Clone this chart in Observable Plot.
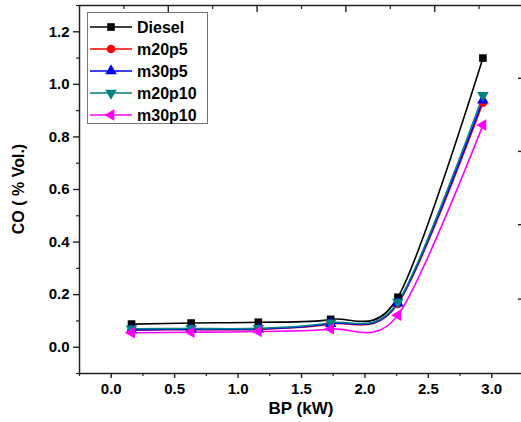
<!DOCTYPE html>
<html>
<head>
<meta charset="utf-8">
<script src="https://cdn.jsdelivr.net/npm/d3@7"></script>
<script src="https://cdn.jsdelivr.net/npm/@observablehq/plot@0.6"></script>
<style>
  html, body { margin: 0; padding: 0; background: #fff; }
  #chart svg { display: block; }
</style>
</head>
<body>
<div id="chart"></div>
<script>
// ---- data ----
const bp = [0.16, 0.63, 1.16, 1.73, 2.26, 2.93];
const seriesNames = ["Diesel", "m20p5", "m30p5", "m20p10", "m30p10"];
const diesel = [0.088, 0.092, 0.095, 0.106, 0.19, 1.10];
const m20p5  = [0.065, 0.067, 0.068, 0.088, 0.165, 0.93];
const m30p5  = [0.066, 0.068, 0.069, 0.090, 0.168, 0.94];
const m20p10 = [0.070, 0.071, 0.072, 0.093, 0.172, 0.958];
const m30p10 = [0.055, 0.057, 0.060, 0.069, 0.122, 0.845];
const xTicks = [0, 0.5, 1.0, 1.5, 2.0, 2.5, 3.0];
const xMinor = [-0.25, 0.25, 0.75, 1.25, 1.75, 2.25, 2.75, 3.25];
const yTicks = [0, 0.2, 0.4, 0.6, 0.8, 1.0, 1.2];
const yMinor = [-0.1, 0.1, 0.3, 0.5, 0.7, 0.9, 1.1, 1.3];
const topMajor = [0.45, 1.15, 1.85, 2.55];
const topMinor = [0.10, 0.80, 1.50, 2.20, 2.90];
const rightMajor = [0.183, 0.466, 0.745, 1.023];
const rightMinor = [0.042, 0.32, 0.603, 0.88, 1.16];

const colors = ["#000000", "#ff0000", "#0000ff", "#008080", "#ff00ff"];
const valuesBySeries = [diesel, m20p5, m30p5, m20p10, m30p10];

// custom symbols
const triDown = {draw(ctx, size) {
  const y = -Math.sqrt(size / (3 * Math.sqrt(3)));
  ctx.moveTo(0, -y * 2); ctx.lineTo(-Math.sqrt(3) * y, y); ctx.lineTo(Math.sqrt(3) * y, y); ctx.closePath();
}};
const triLeft = {draw(ctx, size) {
  const y = -Math.sqrt(size / (3 * Math.sqrt(3)));
  ctx.moveTo(y * 2, 0); ctx.lineTo(-y, -Math.sqrt(3) * y); ctx.lineTo(-y, Math.sqrt(3) * y); ctx.closePath();
}};
const symbols = [d3.symbolSquare, d3.symbolCircle, d3.symbolTriangle, triDown, triLeft];

const rows = [];
seriesNames.forEach((s, i) => bp.forEach((x, j) => rows.push({series: s, idx: i, x, y: valuesBySeries[i][j]})));

const font = "'Liberation Sans', Arial, sans-serif";
const axisColor = "#222";

const marks = [];
seriesNames.forEach((s, i) => {
  const d = rows.filter(r => r.idx === i);
  marks.push(Plot.line(d, {x: "x", y: "y", stroke: colors[i], strokeWidth: 1.6, curve: "cardinal", tension: 0.1}));
});
seriesNames.forEach((s, i) => {
  const d = rows.filter(r => r.idx === i);
  marks.push(Plot.dot(d, {x: "x", y: "y", fill: colors[i], stroke: "none", symbol: symbols[i], r: 4.3}));
});
// frame
marks.push(Plot.frame({stroke: axisColor, strokeWidth: 1.5}));
// axes
marks.push(Plot.axisX({ticks: xTicks, tickSize: 5, tickPadding: 5, tickFormat: d3.format(".1f"), fontSize: 15, fontWeight: "bold", stroke: axisColor, strokeWidth: 1.4, label: null}));
marks.push(Plot.axisX({ticks: xMinor, tickSize: 3, tickFormat: () => "", stroke: axisColor, strokeWidth: 1.2, label: null}));
marks.push(Plot.axisY({ticks: yTicks, tickSize: 6, tickPadding: 4, tickFormat: d3.format(".1f"), fontSize: 15, fontWeight: "bold", stroke: axisColor, strokeWidth: 1.4, label: null}));
marks.push(Plot.axisY({ticks: yMinor, tickSize: 3, tickFormat: () => "", stroke: axisColor, strokeWidth: 1.2, label: null}));
marks.push(Plot.axisX({anchor: "top", ticks: topMajor, tickSize: -6, tickFormat: () => "", stroke: axisColor, strokeWidth: 1.4, label: null}));
marks.push(Plot.axisX({anchor: "top", ticks: topMinor, tickSize: -3, tickFormat: () => "", stroke: axisColor, strokeWidth: 1.2, label: null}));
marks.push(Plot.axisY({anchor: "right", ticks: rightMajor, tickSize: -6, tickFormat: () => "", stroke: axisColor, strokeWidth: 1.4, label: null}));
marks.push(Plot.axisY({anchor: "right", ticks: rightMinor, tickSize: -3, tickFormat: () => "", stroke: axisColor, strokeWidth: 1.2, label: null}));

const chart = Plot.plot({
  width: 521,
  height: 422,
  marginLeft: 79,
  marginRight: -2,
  marginTop: 5,
  marginBottom: 49,
  x: {domain: [-0.25, 3.25]},
  y: {domain: [-0.1, 1.3]},
  style: {fontFamily: font, fontWeight: "bold", color: "#000", background: "#fff", overflow: "hidden"},
  marks
});
document.getElementById("chart").appendChild(chart);

// axis titles and legend
const svg = d3.select(chart);
svg.append("text")
  .attr("x", 301).attr("y", 414)
  .attr("text-anchor", "middle")
  .style("font", `bold 17px ${font}`)
  .text("BP (kW)");
svg.append("text")
  .attr("transform", "translate(24,189) rotate(-90)")
  .attr("text-anchor", "middle")
  .style("font", `bold 16px ${font}`)
  .text("CO ( % Vol.)");

const lg = svg.append("g");
lg.append("rect").attr("x", 87.5).attr("y", 12.5).attr("width", 120).attr("height", 111)
  .attr("fill", "#fff").attr("stroke", "#777").attr("stroke-width", 1);
seriesNames.forEach((s, i) => {
  const y = 27 + i * 22;
  const g = lg.append("g");
  g.append("line").attr("x1", 90).attr("x2", 132).attr("y1", y).attr("y2", y)
    .attr("stroke", colors[i]).attr("stroke-width", 1.6);
  g.append("path").attr("transform", `translate(111,${y})`)
    .attr("d", d3.symbol(symbols[i], Math.PI * 4.3 * 4.3)())
    .attr("fill", colors[i]);
  g.append("text").attr("x", 137).attr("y", y).attr("dy", "0.36em")
    .attr("text-anchor", "start")
    .style("font", `bold 16px ${font}`).attr("fill", "#000").text(s);
});
</script>
</body>
</html>
